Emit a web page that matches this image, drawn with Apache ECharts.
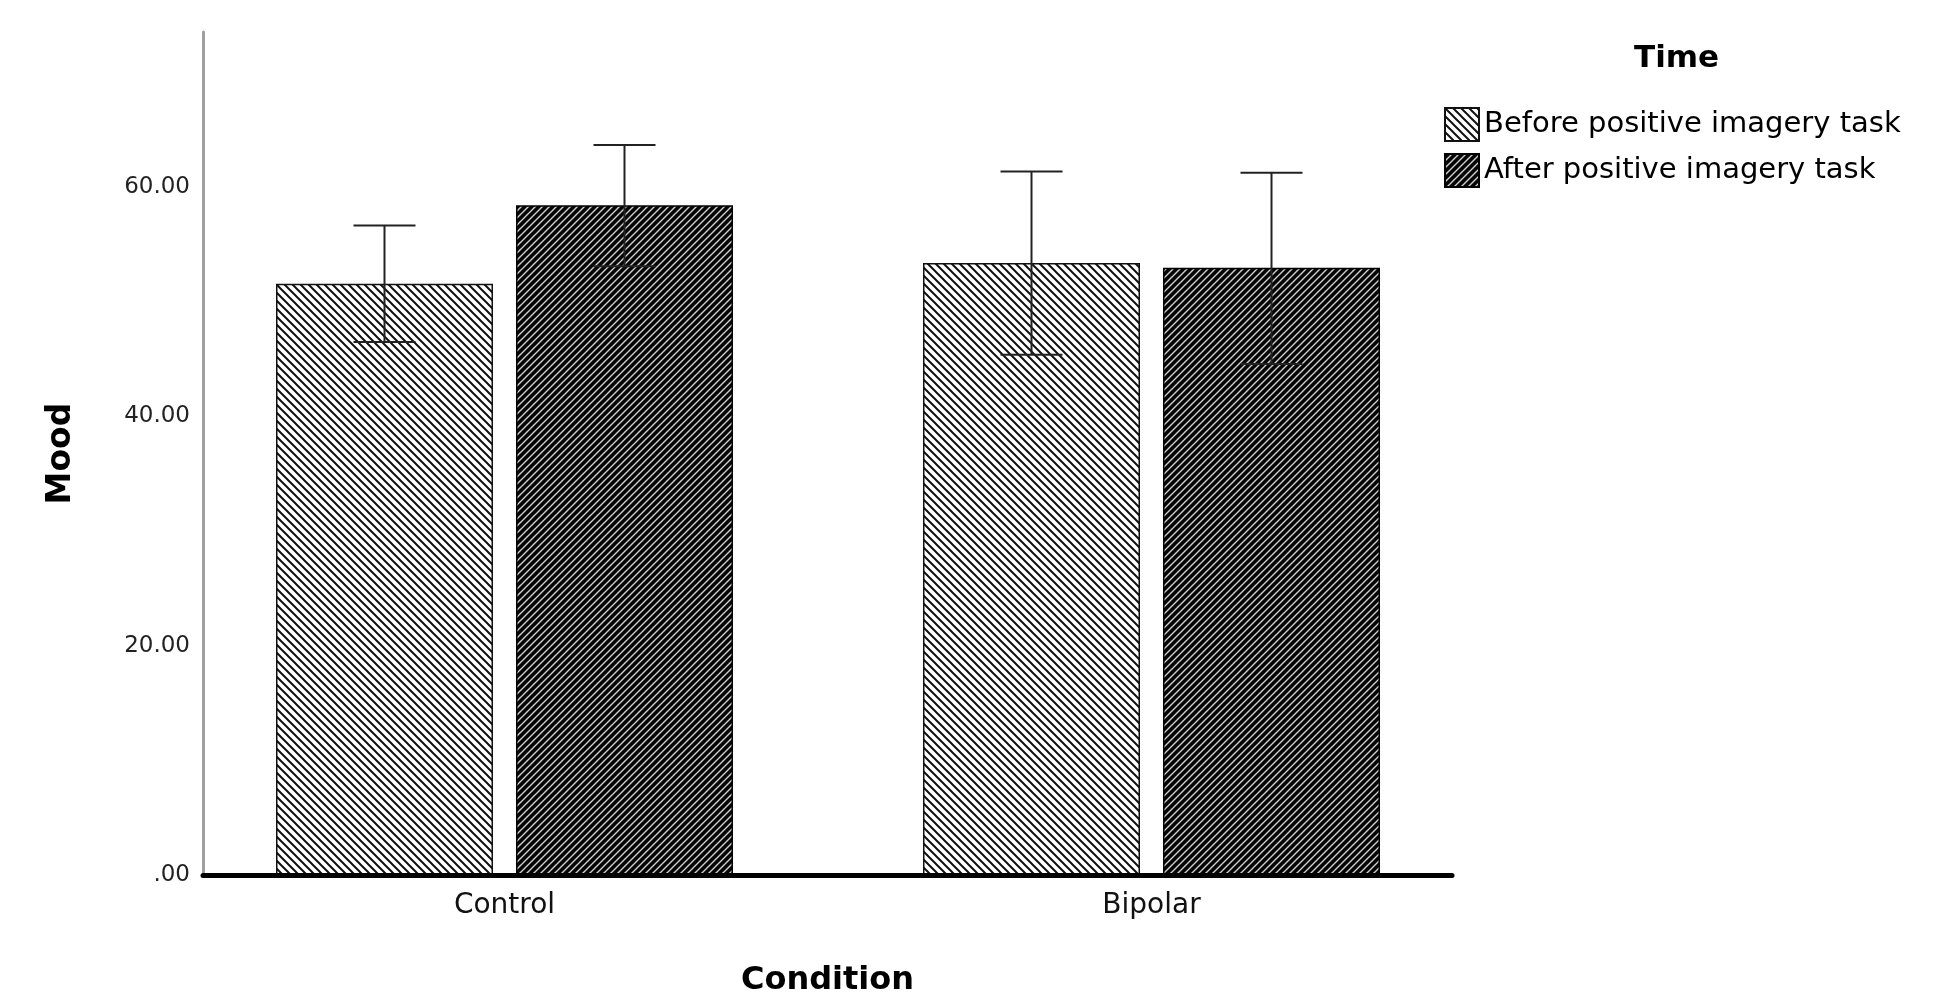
<!DOCTYPE html>
<html>
<head>
<meta charset="utf-8">
<script src="https://cdn.jsdelivr.net/npm/echarts@6/dist/echarts.min.js"></script>
<style>
html,body{margin:0;padding:0;background:#fff;}
#chart{width:1952px;height:993px;}
</style>
</head>
<body>
<div id="chart"></div>
<script>
// ---- data ----
var categories = ['Control', 'Bipolar'];
var seriesNames = ['Before positive imagery task', 'After positive imagery task'];
var beforeMean = [51.55, 53.35];
var beforeLow  = [46.48, 45.35];
var beforeHigh = [56.63, 61.34];
var afterMean  = [58.40, 52.94];
var afterLow   = [53.08, 44.56];
var afterHigh  = [63.64, 61.23];
var yTicks = [0, 20, 40, 60];

// ---- patterns ----
function makeBeforePattern() {
  var c = document.createElement('canvas');
  c.width = 8; c.height = 8;
  var g = c.getContext('2d');
  g.fillStyle = '#ffffff'; g.fillRect(0, 0, 8, 8);
  g.strokeStyle = '#111111'; g.lineWidth = 2.0;
  g.beginPath();
  g.moveTo(-2, -2); g.lineTo(10, 10);
  g.moveTo(-2, 6); g.lineTo(2, 10);
  g.moveTo(6, -2); g.lineTo(10, 2);
  g.stroke();
  return c;
}
function makeAfterPattern() {
  var c = document.createElement('canvas');
  c.width = 7; c.height = 7;
  var g = c.getContext('2d');
  g.fillStyle = '#050505'; g.fillRect(0, 0, 7, 7);
  g.strokeStyle = '#d0d0d0'; g.lineWidth = 1.4;
  g.beginPath();
  g.moveTo(-1, 8); g.lineTo(8, -1);
  g.moveTo(-1, 1); g.lineTo(1, -1);
  g.moveTo(6, 8); g.lineTo(8, 6);
  g.stroke();
  return c;
}
var beforeFill = { image: makeBeforePattern(), repeat: 'repeat' };
var afterFill = { image: makeAfterPattern(), repeat: 'repeat' };

var BAR_W = 217;
var BAR_GAP = 23;
var CAP_W = 62;

function errorRender(sign) {
  return function (params, api) {
    var ci = api.value(0);
    var lo = api.coord([ci, api.value(1)]);
    var hi = api.coord([ci, api.value(2)]);
    var x = lo[0] + sign * (BAR_W + BAR_GAP) / 2;
    var style = { stroke: '#222', lineWidth: 2 };
    return {
      type: 'group',
      children: [
        { type: 'line', shape: { x1: x, y1: lo[1], x2: x, y2: hi[1] }, style: style },
        { type: 'line', shape: { x1: x - CAP_W / 2, y1: hi[1], x2: x + CAP_W / 2, y2: hi[1] }, style: style },
        { type: 'line', shape: { x1: x - CAP_W / 2, y1: lo[1], x2: x + CAP_W / 2, y2: lo[1] }, style: style }
      ]
    };
  };
}

var FONT = 'DejaVu Sans';
var Y_MAX = 73.5;

var chart = echarts.init(document.getElementById('chart'), null, { renderer: 'canvas' });
chart.setOption({
  animation: false,
  backgroundColor: '#ffffff',
  title: {
    text: 'Time',
    left: 1629, top: 38,
    textStyle: { fontFamily: FONT, fontWeight: 'bold', fontSize: 31, color: '#000' }
  },
  legend: {
    data: seriesNames,
    orient: 'vertical',
    left: 1444, top: 107, padding: 0,
    itemWidth: 34, itemHeight: 33, itemGap: 11,
    icon: 'rect',
    textStyle: { fontFamily: FONT, fontSize: 29, lineHeight: 33, color: '#000', padding: [0, 0, 0, 0] },
    selectedMode: false
  },
  grid: [
    { left: 203, right: 500, top: 32, bottom: 118, outerBoundsMode: 'none', containLabel: false },
    { left: 181, right: 477, top: 32, bottom: 118, outerBoundsMode: 'none', containLabel: false }
  ],
  xAxis: [
    {
      gridIndex: 0, type: 'value', min: 0, max: 1, z: 10,
      axisLine: { show: true, lineStyle: { color: '#000', width: 5 } },
      axisTick: { show: false }, axisLabel: { show: false }, splitLine: { show: false },
      name: 'Condition', nameLocation: 'middle', nameGap: 90,
      nameTextStyle: { fontFamily: FONT, fontWeight: 'bold', fontSize: 32, color: '#000' }
    },
    {
      gridIndex: 1, type: 'category', data: categories,
      axisLine: { show: false }, axisTick: { show: false },
      axisLabel: { fontFamily: FONT, fontSize: 28, color: '#111', margin: 17 }
    }
  ],
  yAxis: [
    {
      gridIndex: 0, type: 'value', min: 0, max: Y_MAX, interval: 20,
      axisLine: { show: true, lineStyle: { color: '#a0a0a0', width: 3 } },
      axisTick: { show: false }, splitLine: { show: false },
      axisLabel: {
        fontFamily: FONT, fontSize: 23, color: '#222', margin: 13, showMaxLabel: false,
        padding: [11, 0, 0, 0],
        formatter: function (v) {
          if (yTicks.indexOf(v) < 0) return '';
          return v === 0 ? '.00' : v.toFixed(2);
        }
      },
      name: 'Mood', nameLocation: 'middle', nameGap: 125, nameRotate: 90,
      nameTextStyle: { fontFamily: FONT, fontWeight: 'bold', fontSize: 33, color: '#000' }
    },
    {
      gridIndex: 1, type: 'value', min: 0, max: Y_MAX, show: false
    }
  ],
  series: [
    {
      name: seriesNames[0], type: 'bar', xAxisIndex: 1, yAxisIndex: 1,
      data: beforeMean, barWidth: BAR_W, barGap: (BAR_GAP / BAR_W * 100) + '%',
      itemStyle: { color: beforeFill, borderColor: '#111', borderWidth: 1.5 }
    },
    {
      name: seriesNames[1], type: 'bar', xAxisIndex: 1, yAxisIndex: 1,
      data: afterMean, barWidth: BAR_W,
      itemStyle: { color: afterFill, borderColor: '#000', borderWidth: 1.5 }
    },
    {
      type: 'custom', xAxisIndex: 1, yAxisIndex: 1, z: 5,
      renderItem: errorRender(-1),
      data: categories.map(function (c, i) { return [i, beforeLow[i], beforeHigh[i]]; })
    },
    {
      type: 'custom', xAxisIndex: 1, yAxisIndex: 1, z: 5,
      renderItem: errorRender(1),
      data: categories.map(function (c, i) { return [i, afterLow[i], afterHigh[i]]; })
    }
  ]
});
</script>
</body>
</html>
